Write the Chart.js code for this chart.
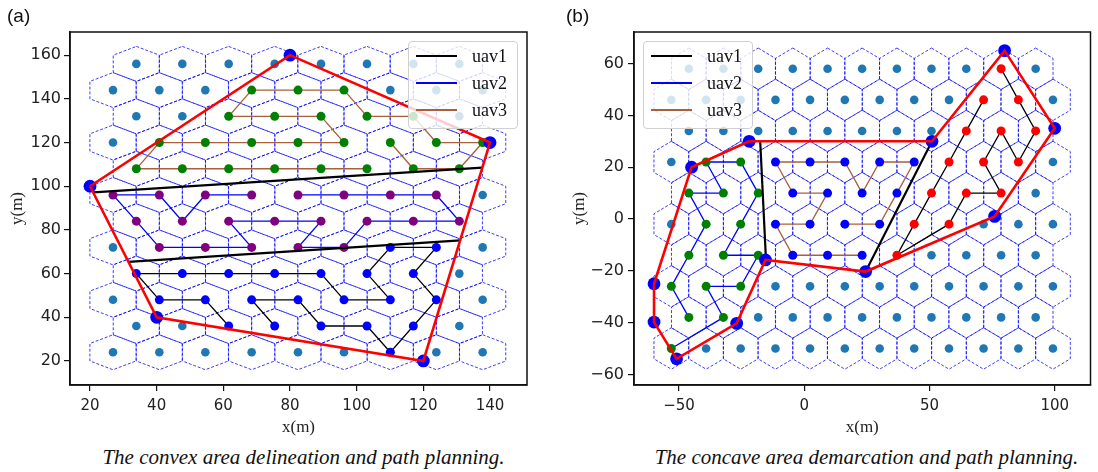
<!DOCTYPE html>
<html>
<head>
<meta charset="utf-8">
<title>UAV area partition and path planning</title>
<script src="https://cdn.jsdelivr.net/npm/chart.js@4.4.1/dist/chart.umd.min.js"></script>
<style>
  body { margin: 0; background: #fff; }
  #page { position: relative; width: 1098px; height: 472px; overflow: hidden; }
  canvas { position: absolute; top: 0; }
  .tag { position: absolute; top: 5px; font: 19px/22px "Liberation Sans", sans-serif; color: #111; }
  .caption { position: absolute; top: 445px; width: 549px; text-align: center; font: italic 21px/24px "Liberation Serif", serif; color: #111; }
  .legend { position: absolute; top: 41px; width: 108px; height: 86px; background: rgba(255,255,255,0.8); border: 1px solid #d0d0d0; border-radius: 4px; }
  .legend div { position: absolute; left: 0; width: 100%; height: 20px; font: 18px/20px "Liberation Serif", serif; color: #111; }
  .legend i { position: absolute; left: 7px; width: 41px; }
  .legend span { position: absolute; left: 63px; top: 0; }
</style>
</head>
<body>
<div id="page">
  <canvas id="chartA" width="549" height="445" style="left:0"></canvas>
  <canvas id="chartB" width="549" height="445" style="left:549px"></canvas>
  <div class="tag" style="left:7px">(a)</div>
  <div class="tag" style="left:566px">(b)</div>
  <div class="legend" id="legendA" style="left:408px"></div>
  <div class="legend" id="legendB" style="left:643px"></div>
  <div class="caption" style="left:29px">The convex area delineation and path planning.</div>
  <div class="caption" style="left:592px">The concave area demarcation and path planning.</div>
</div>
<script>
// ---- panel (a): convex area ----
const xTicksA = [20, 40, 60, 80, 100, 120, 140];
const yTicksA = [20, 40, 60, 80, 100, 120, 140, 160];
const rowsEvenA = [24, 48, 72, 96, 120, 144];
const colsEvenA = [26.9, 40.8, 54.6, 68.5, 82.4, 96.2, 110.1, 123.9, 137.8];
const rowsOddA = [36, 60, 84, 108, 132, 156];
const colsOddA = [33.9, 47.7, 61.6, 75.4, 89.3, 103.1, 117.0, 130.8];
const boundaryA = [[20, 100], [80, 160], [140, 120], [120, 20], [40, 40], [20, 100]];
const splitLinesA = [
  [[21, 97.2], [137.7, 108.5]],
  [[31.5, 65.4], [131.1, 75.2]]
];
const uav1A = [[61.6, 36], [54.6, 48], [40.8, 48], [33.9, 60], [47.7, 60], [61.6, 60], [75.4, 60], [89.3, 60],
  [96.2, 48], [110.1, 48], [103.1, 60], [110.1, 72], [123.9, 72], [117.0, 60], [123.9, 48], [117.0, 36],
  [110.1, 24], [103.1, 36], [89.3, 36], [82.4, 48], [68.5, 48], [75.4, 36]];
const uav2A = [[68.5, 96], [54.6, 96], [47.7, 84], [40.8, 96], [26.9, 96], [33.9, 84], [40.8, 72], [54.6, 72],
  [68.5, 72], [61.6, 84], [75.4, 84], [89.3, 84], [82.4, 72], [96.2, 72], [103.1, 84], [117.0, 84],
  [130.8, 84], [123.9, 96], [110.1, 96], [96.2, 96], [82.4, 96]];
const uav3A = [[110.1, 120], [117.0, 108], [130.8, 108], [137.8, 120], [123.9, 120], [117.0, 132], [103.1, 132],
  [96.2, 144], [82.4, 144], [68.5, 144], [61.6, 132], [75.4, 132], [89.3, 132], [96.2, 120], [82.4, 120],
  [68.5, 120], [54.6, 120], [40.8, 120], [33.9, 108], [47.7, 108], [61.6, 108], [75.4, 108], [89.3, 108],
  [103.1, 108]];

// ---- panel (b): concave area ----
const xTicksB = [-50, 0, 50, 100];
const yTicksB = [-60, -40, -20, 0, 20, 40, 60];
const rowsEvenB = [58, 34, 10, -14, -38];
const colsEvenB = [-46.1, -32.3, -18.4, -4.6, 9.3, 23.1, 37.0, 50.8, 64.7, 78.6, 92.4];
const rowsOddB = [46, 22, -2, -26, -50];
const colsOddB = [-53.1, -39.2, -25.4, -11.5, 2.3, 16.2, 30.1, 43.9, 57.8, 71.6, 85.5, 99.3];
const boundaryB = [[-22, 30], [51, 30], [80, 65], [100, 35], [76, 1], [24.5, -20.3], [-15.5, -15.8],
  [-27, -40.3], [-51, -54], [-60, -39.8], [-60, -25], [-45, 20], [-22, 30]];
const splitLinesB = [
  [[-17.6, 30], [-15.3, -15.6]],
  [[51, 30], [24.5, -20.3]]
];
const uav1B = [[78.6, 58], [85.5, 46], [92.4, 34], [85.5, 22], [78.6, 34], [71.6, 22], [78.6, 10], [64.7, 10],
  [57.8, -2], [37.0, -14], [43.9, -2], [50.8, 10], [57.8, 22], [64.7, 34], [71.6, 46]];
const uav2B = [[-53.1, -50], [-32.3, -38], [-39.2, -26], [-25.4, -26], [-18.4, -14], [-32.3, -14], [-25.4, -2],
  [-18.4, 10], [-25.4, 22], [-39.2, 22], [-32.3, 10], [-46.1, 10], [-39.2, -2], [-46.1, -14], [-53.1, -26],
  [-46.1, -38]];
const uav3B = [[23.1, -14], [9.3, -14], [-4.6, -14], [-11.5, -2], [2.3, -2], [9.3, 10], [-4.6, 10], [-11.5, 22],
  [2.3, 22], [16.2, 22], [23.1, 10], [30.1, 22], [43.9, 22], [37.0, 10], [30.1, -2], [16.2, -2]];

const seriesNames = ['uav1', 'uav2', 'uav3'];
const lineColors = ['#000000', '#0000ff', '#a8603c'];

// pointy-top hexagon cells
const hexR = 8;
const hexCorners = [90, 30, -30, -90, -150, 150, 90].map(a =>
  [hexR * Math.cos(a * Math.PI / 180), hexR * Math.sin(a * Math.PI / 180)]);

function latticeCenters(rowsEven, colsEven, rowsOdd, colsOdd) {
  const centers = [];
  rowsEven.forEach(y => colsEven.forEach(x => centers.push([x, y])));
  rowsOdd.forEach(y => colsOdd.forEach(x => centers.push([x, y])));
  return centers;
}

function hexOutlines(centers) {
  const pts = [];
  centers.forEach(([cx, cy]) => {
    hexCorners.forEach(([dx, dy]) => pts.push({x: cx + dx, y: cy + dy}));
    pts.push({x: cx, y: null});
  });
  return pts;
}

const key = ([x, y]) => x.toFixed(1) + ',' + y.toFixed(1);
const toXY = pts => pts.map(([x, y]) => ({x, y}));

function panelDatasets(p) {
  const centers = latticeCenters(p.rowsEven, p.colsEven, p.rowsOdd, p.colsOdd);
  const visited = new Set(p.routes.flatMap(r => r.path.map(key)));
  const free = centers.filter(c => !visited.has(key(c)));
  const sets = [
    {data: hexOutlines(centers), borderColor: 'rgba(0,0,255,0.85)', borderWidth: 0.9,
      borderDash: [3, 1.8], pointRadius: 0, order: 9},
    {data: toXY(free), showLine: false, pointRadius: 4.3, pointBackgroundColor: '#1f77b4', order: 8}
  ];
  p.routes.forEach(r => sets.push({data: toXY(r.path), borderColor: r.line, borderWidth: 1.3,
    pointRadius: 4.5, pointBackgroundColor: r.node, order: 6}));
  p.splits.forEach(s => sets.push({data: toXY(s), borderColor: '#000', borderWidth: 2.2,
    pointRadius: 0, order: 4}));
  sets.push({data: toXY(p.boundary.slice(0, -1)), showLine: false, pointRadius: 6.4,
    pointBackgroundColor: '#0000ff', order: 3});
  sets.push({data: toXY(p.boundary), borderColor: '#ff0000', borderWidth: 2.6, pointRadius: 0, order: 2});
  sets.forEach(s => { s.pointBorderWidth = 0; s.tension = 0; s.fill = false; });
  return sets;
}

const frame = {
  id: 'frame',
  afterDatasetsDraw(chart) {
    const {ctx, chartArea: a} = chart;
    ctx.save();
    ctx.strokeStyle = '#111';
    ctx.lineWidth = 1.5;
    ctx.strokeRect(a.left, a.top, a.right - a.left, a.bottom - a.top);
    ctx.restore();
  }
};

const minusSign = v => String(v).replace('-', '\u2212');

function drawPanel(id, p) {
  new Chart(document.getElementById(id), {
    type: 'line',
    data: {datasets: panelDatasets(p)},
    options: {
      responsive: false,
      animation: false,
      events: [],
      layout: {padding: {top: 32, right: p.padRight, left: 0, bottom: 0}},
      plugins: {legend: {display: false}, tooltip: {enabled: false}},
      scales: {
        x: {
          type: 'linear', min: p.xRange[0], max: p.xRange[1],
          afterBuildTicks: s => { s.ticks = p.xTicks.map(v => ({value: v})); },
          afterFit: s => { s.height = 60; },
          ticks: {padding: 6, color: '#222', font: {family: 'DejaVu Sans', size: 15}, callback: minusSign,
            maxRotation: 0, autoSkip: false},
          grid: {drawOnChartArea: false, drawTicks: true, tickLength: 6, color: '#111', lineWidth: 1.2},
          border: {display: true, color: '#111', width: 1.5},
          title: {display: true, text: 'x(m)', color: '#222', padding: {top: 0, bottom: 7},
            font: {family: 'Liberation Serif', size: 17}}
        },
        y: {
          type: 'linear', min: p.yRange[0], max: p.yRange[1],
          afterBuildTicks: s => { s.ticks = p.yTicks.map(v => ({value: v})); },
          afterFit: s => { s.width = p.yWidth; },
          ticks: {padding: p.yPad, color: '#222', font: {family: 'DejaVu Sans', size: 16}, callback: minusSign,
            autoSkip: false},
          grid: {drawOnChartArea: false, drawTicks: true, tickLength: 6, color: '#111', lineWidth: 1.2},
          border: {display: true, color: '#111', width: 1.5},
          title: {display: true, text: 'y(m)', color: '#222', padding: {top: p.yTitlePad, bottom: 0},
            font: {family: 'Liberation Serif', size: 17}}
        }
      }
    },
    plugins: [frame]
  });
}

function drawLegend(id) {
  const box = document.getElementById(id);
  const rowTops = [4, 31, 58];
  const widths = [1.6, 2.4, 1.8];
  seriesNames.forEach((name, i) => {
    const row = document.createElement('div');
    row.style.top = rowTops[i] + 'px';
    row.innerHTML = '<i style="top:' + (10 - widths[i] / 2) + 'px;height:' + widths[i] +
      'px;background:' + lineColors[i] + '"></i><span>' + name + '</span>';
    box.appendChild(row);
  });
}

drawPanel('chartA', {
  rowsEven: rowsEvenA, colsEven: colsEvenA, rowsOdd: rowsOddA, colsOdd: colsOddA,
  routes: [
    {path: uav1A, line: lineColors[0], node: '#0000ff'},
    {path: uav2A, line: lineColors[1], node: '#800080'},
    {path: uav3A, line: lineColors[2], node: '#008000'}
  ],
  splits: splitLinesA, boundary: boundaryA,
  xRange: [14, 151.1], yRange: [9, 170.6], xTicks: xTicksA, yTicks: yTicksA,
  yWidth: 70, yPad: 3, yTitlePad: 7, padRight: 22
});

drawPanel('chartB', {
  rowsEven: rowsEvenB, colsEven: colsEvenB, rowsOdd: rowsOddB, colsOdd: colsOddB,
  routes: [
    {path: uav1B, line: lineColors[0], node: '#ff0000'},
    {path: uav2B, line: lineColors[1], node: '#008000'},
    {path: uav3B, line: lineColors[2], node: '#0000ff'}
  ],
  splits: splitLinesB, boundary: boundaryB,
  xRange: [-68, 114.3], yRange: [-64.1, 72.2], xTicks: xTicksB, yTicks: yTicksB,
  yWidth: 85, yPad: 4, yTitlePad: 20, padRight: 7.5
});

drawLegend('legendA');
drawLegend('legendB');
</script>
</body>
</html>
